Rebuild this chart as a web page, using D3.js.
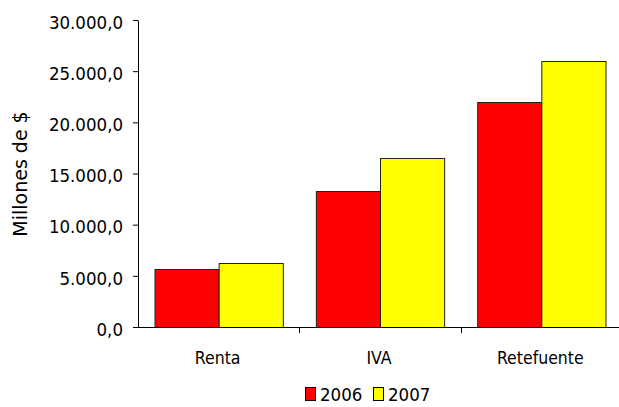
<!DOCTYPE html>
<html>
<head>
<meta charset="utf-8">
<script src="https://cdn.jsdelivr.net/npm/d3@7"></script>
<style>
  body { margin: 0; background: #fff; }
  svg text { font-family: "DejaVu Sans Condensed", "DejaVu Sans", sans-serif; fill: #000; }
</style>
</head>
<body>
<svg id="chart"></svg>
<script>
var categories = ["Renta", "IVA", "Retefuente"];
var years = ["2006", "2007"];
var values2006 = [5650, 13300, 22000];
var values2007 = [6250, 16550, 26000];
var yTicks = [0, 5000, 10000, 15000, 20000, 25000, 30000];
var colors = ["#ff0000", "#ffff00"];

var W = 619, H = 407;
var margin = {top: 20, right: -3, bottom: 80, left: 138},
    width = W - margin.left - margin.right,
    height = H - margin.top - margin.bottom;

var svg = d3.select("#chart")
    .attr("width", W)
    .attr("height", H)
    .append("g")
    .attr("transform", "translate(" + margin.left + "," + margin.top + ")");

var x0 = d3.scaleBand()
    .domain(categories)
    .range([0, width])
    .paddingInner(0)
    .paddingOuter(0);

var x1 = d3.scaleBand()
    .domain(years)
    .range([0, x0.bandwidth()])
    .paddingOuter(0.2575);

var y = d3.scaleLinear()
    .domain([0, 30000])
    .range([height, 0]);

var fmt = function(v) {
    var s = d3.format(",.1f")(v);
    return s.replace(/,/g, "#").replace(".", ",").replace(/#/g, ".");
};

// y axis
var yAxis = svg.append("g")
    .call(d3.axisLeft(y).tickValues(yTicks).tickFormat(fmt).tickSize(5).tickSizeOuter(0));
yAxis.select(".domain").attr("stroke", "#000");
yAxis.selectAll("text")
    .style("font-size", "18.5px")
    .attr("x", -15)
    .attr("dy", "0.45em");

// bars
var rows = categories.map(function(c, i) {
    return {cat: c, vals: [values2006[i], values2007[i]]};
});

var groups = svg.selectAll(".grp")
    .data(rows)
    .enter().append("g")
    .attr("class", "grp")
    .attr("transform", function(d) { return "translate(" + x0(d.cat) + ",0)"; });

groups.selectAll("rect")
    .data(function(d) { return d.vals.map(function(v, j) { return {year: years[j], v: v, j: j}; }); })
    .enter().append("rect")
    .attr("x", function(d) { return x1(d.year) + 0.5; })
    .attr("y", function(d) { return Math.round(y(d.v)) + 0.5; })
    .attr("width", x1.bandwidth())
    .attr("height", function(d) { return height - Math.round(y(d.v)); })
    .attr("fill", function(d) { return colors[d.j]; })
    .attr("stroke", "#222")
    .attr("stroke-width", 1);

// x axis
var xAxis = svg.append("g")
    .attr("transform", "translate(0," + height + ")");
xAxis.append("line")
    .attr("x1", 0).attr("x2", width)
    .attr("y1", 0.5).attr("y2", 0.5)
    .attr("stroke", "#000");
xAxis.selectAll(".tk")
    .data(categories.slice(1))
    .enter().append("line")
    .attr("x1", function(d) { return Math.round(x0(d)) + 0.5; })
    .attr("x2", function(d) { return Math.round(x0(d)) + 0.5; })
    .attr("y1", 0).attr("y2", 6)
    .attr("stroke", "#000");
xAxis.selectAll(".lbl")
    .data(categories)
    .enter().append("text")
    .attr("x", function(d) { return x0(d) + x0.bandwidth() / 2 - 1; })
    .attr("y", 37)
    .attr("text-anchor", "middle")
    .style("font-size", "17.5px")
    .text(function(d) { return d; });

// y label
svg.append("text")
    .attr("transform", "translate(" + (27 - margin.left) + "," + (174 - margin.top) + ") rotate(-90)")
    .attr("text-anchor", "middle")
    .style("font-family", "'DejaVu Sans', sans-serif")
    .style("font-size", "19px")
    .text("Millones de $");

// legend
var legend = svg.append("g")
    .attr("transform", "translate(" + (305 - margin.left) + "," + (387 - margin.top) + ")");
var li = legend.selectAll("g")
    .data(years)
    .enter().append("g")
    .attr("transform", function(d, i) { return "translate(" + (i * 68) + ",0)"; });
li.append("rect")
    .attr("x", 0.5).attr("y", 0.5)
    .attr("width", 10).attr("height", 13)
    .attr("fill", function(d, i) { return colors[i]; })
    .attr("stroke", "#000");
li.append("text")
    .attr("x", 15)
    .attr("y", 14)
    .style("font-size", "18.5px")
    .text(function(d) { return d; });
</script>
</body>
</html>
